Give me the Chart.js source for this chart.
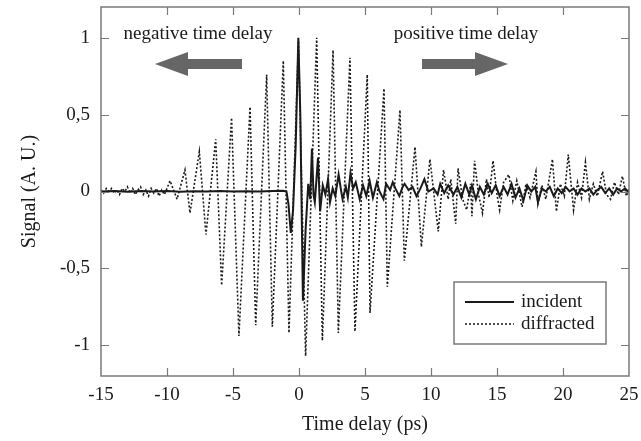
<!DOCTYPE html>
<html>
<head>
<meta charset="utf-8">
<script src="https://cdn.jsdelivr.net/npm/chart.js@4/dist/chart.umd.min.js"></script>
<style>
  html, body { margin: 0; padding: 0; background: #fff; }
  #wrap { width: 641px; height: 441px; }
</style>
</head>
<body>
<div id="wrap"><canvas id="chart" width="641" height="441"></canvas></div>
<script>
'use strict';

const FONT = "'Liberation Serif', 'Times New Roman', serif";
const INK  = '#1a1a1a';
const AXIS = '#7a7a7a';
const ARROW = '#666';

// ─── Data ────────────────────────────────────────────────────────────────────

const xTicks = [-15, -10, -5, 0, 5, 10, 15, 20, 25];
const yTicks = [-1, -0.5, 0, 0.5, 1];

const incidentX = [
  -15, -14, -13, -12, -11, -10, -9, -8, -7, -6, -5, -4, -3, -2, -1.2,
  -0.95, -0.8, -0.62, -0.45, -0.25, -0.05, 0.1, 0.3, 0.5, 0.7, 0.85, 0.98,
  1.1, 1.2, 1.44, 1.6, 1.8, 2.0, 2.2, 2.35, 2.55, 2.75, 3.0, 3.2, 3.3, 3.55,
  3.7, 3.9, 4.1, 4.3, 4.6, 4.85, 5.1, 5.35, 5.6, 5.9, 6.1, 6.4, 6.6, 6.9,
  7.1, 7.3, 7.6, 7.85, 8.0, 8.3, 8.6, 8.9, 9.2, 9.5, 9.8, 10.2, 10.5, 10.7,
  11.0, 11.3, 11.7, 12.0, 12.3, 12.6, 12.9, 13.1, 13.4, 13.7, 14.0, 14.3,
  14.6, 14.9, 15.2, 15.5, 15.8, 16.1, 16.4, 16.7, 17.0, 17.3, 17.6, 17.9,
  18.1, 18.4, 18.7, 19.0, 19.3, 19.6, 19.9, 20.2, 20.5, 20.8, 21.1, 21.4,
  21.7, 22.0, 22.3, 22.6, 22.9, 23.2, 23.5, 23.8, 24.1, 24.4, 24.7, 25.0,
];
const incidentY = [
  0.0, 0.004, -0.002, 0.003, 0.0, 0.004, -0.002, 0.002, 0.0, 0.003, 0.0, 0.002, 0.0, 0.003, 0.005,
  0.0, -0.08, -0.27, -0.12, 0.3, 1.0, 0.5, -0.71, -0.25, 0.05, -0.05, 0.28,
  -0.02, -0.07, 0.22, -0.13, 0.04, -0.02, 0.08, -0.07, 0.02, -0.03, 0.11, 0.0, -0.05, 0.03,
  -0.04, 0.12, 0.02, 0.06, -0.05, 0.04, -0.03, 0.07, -0.04, 0.06, 0.0, -0.05, 0.05, 0.01,
  0.06, 0.02, -0.03, 0.03, 0.05, 0.01, 0.03, -0.03, 0.02, 0.08, 0.0, 0.02, -0.02, 0.05,
  -0.01, 0.04, -0.02, 0.03, -0.04, 0.05, -0.02, 0.04, -0.05, 0.03, -0.02, 0.05,
  -0.01, 0.04, -0.03, 0.03, -0.02, 0.05, -0.04, 0.02, -0.06, 0.04, 0.0, 0.03,
  -0.07, 0.02, 0.0, 0.03, -0.03, 0.02, -0.01, 0.03, 0.0, 0.02, -0.02, 0.02,
  0.0, 0.02, -0.02, 0.01, 0.03, -0.01, 0.02, -0.02, 0.02, 0.0, 0.02, -0.01,
];

const diffractedX = [
  -15, -14.8, -14.6, -14.4, -14.2, -14.0, -13.8, -13.6, -13.4, -13.2, -13.0,
  -12.8, -12.6, -12.4, -12.2, -12.0, -11.8, -11.6, -11.4, -11.2, -11.0,
  -10.8, -10.6, -10.4, -10.2, -10.0,
  -9.77, -9.24, -8.64, -8.26, -7.55, -7.05, -6.31, -5.86, -5.11, -4.55,
  -3.71, -3.28, -2.45, -2.02, -1.19, -0.76, -0.04, 0.5, 1.34, 1.77, 2.58,
  2.98, 3.86, 4.24, 5.17, 5.38, 6.44, 6.69, 7.65, 7.98, 8.79, 9.27, 9.92,
  10.55, 10.95, 11.3, 11.5, 11.87, 12.05, 12.4, 12.7, 13.0, 13.1, 13.3,
  13.6, 13.9, 14.2, 14.4, 14.7, 15.0, 15.2, 15.5, 15.9, 16.2, 16.5, 16.9,
  17.2, 17.5, 17.95, 18.1, 18.4, 18.7, 19.2, 19.5, 19.8, 20.1, 20.4, 20.8,
  21.1, 21.4, 21.7, 22.0, 22.3, 22.6, 23.0, 23.3, 23.6, 23.9, 24.2, 24.5,
  24.8, 25.0,
];
const diffractedY = [
  0.01, -0.01, 0.02, 0.0, 0.02, -0.01, 0.01, -0.02, 0.02, 0.0, 0.03,
  -0.01, 0.02, -0.02, 0.01, 0.03, -0.02, 0.01, -0.03, 0.02, -0.01,
  0.02, -0.03, 0.01, -0.02, 0.02,
  0.07, -0.05, 0.14, -0.14, 0.26, -0.28, 0.34, -0.61, 0.48, -0.94,
  0.55, -0.87, 0.76, -0.88, 0.85, -0.92, 0.98, -1.07, 1.0, -0.97, 0.92,
  -0.92, 0.87, -0.91, 0.76, -0.79, 0.67, -0.62, 0.53, -0.45, 0.29, -0.36, 0.21,
  -0.26, 0.14, -0.05, 0.08, -0.21, 0.15, -0.05, -0.12, 0.05, -0.16, 0.2,
  -0.02, -0.14, 0.08, -0.04, 0.2, -0.02, -0.12, 0.06, 0.11, -0.06, 0.07, -0.1,
  0.05, -0.04, 0.13, -0.08, 0.04, -0.05, 0.21, -0.13, 0.05, -0.03, 0.24, -0.12,
  0.06, -0.04, 0.19, -0.05, 0.05, -0.03, 0.13, -0.02, -0.05, 0.06, -0.02, 0.1,
  -0.03, 0.02,
];

const seriesLabels = ['incident', 'diffracted'];

// ─── Decorations: frame, inward ticks, arrows, notes, legend ─────────────────

const frameAndNotes = {
  id: 'frameAndNotes',
  afterDatasetsDraw(chart) {
    const { ctx, chartArea: a, scales: { x, y } } = chart;
    ctx.save();

    // frame
    ctx.strokeStyle = AXIS;
    ctx.lineWidth = 1.5;
    ctx.strokeRect(a.left, a.top, a.right - a.left, a.bottom - a.top);

    // inward ticks on all four sides
    const TL = 8;
    ctx.beginPath();
    xTicks.slice(1, -1).forEach(v => {
      const px = Math.round(x.getPixelForValue(v)) + 0.5;
      ctx.moveTo(px, a.bottom); ctx.lineTo(px, a.bottom - TL);
      ctx.moveTo(px, a.top);    ctx.lineTo(px, a.top + TL);
    });
    yTicks.forEach(v => {
      const py = Math.round(y.getPixelForValue(v)) + 0.5;
      ctx.moveTo(a.left, py);  ctx.lineTo(a.left + TL, py);
      ctx.moveTo(a.right, py); ctx.lineTo(a.right - TL, py);
    });
    ctx.lineWidth = 1.2;
    ctx.stroke();

    // notes
    ctx.fillStyle = INK;
    ctx.font = `19px ${FONT}`;
    ctx.textBaseline = 'middle';
    ctx.textAlign = 'center';
    ctx.fillText('negative time delay', 198, 34);
    ctx.fillText('positive time delay', 466, 34);

    // arrows
    const arrow = (tail, tip, cy) => {
      const dir = Math.sign(tip - tail);
      const headBase = tip - dir * 33;
      ctx.beginPath();
      ctx.moveTo(tail, cy - 5);
      ctx.lineTo(headBase, cy - 5);
      ctx.lineTo(headBase, cy - 12);
      ctx.lineTo(tip, cy);
      ctx.lineTo(headBase, cy + 12);
      ctx.lineTo(headBase, cy + 5);
      ctx.lineTo(tail, cy + 5);
      ctx.closePath();
      ctx.fillStyle = ARROW;
      ctx.fill();
    };
    arrow(242, 155, 64);
    arrow(422, 508, 64);

    // legend box
    const lx = 454, ly = 282, lw = 152, lh = 62;
    ctx.fillStyle = '#fff';
    ctx.fillRect(lx, ly, lw, lh);
    ctx.strokeStyle = AXIS;
    ctx.lineWidth = 1.5;
    ctx.strokeRect(lx, ly, lw, lh);
    chart.data.datasets.forEach((ds, i) => {
      const cy = ly + 20 + i * 22;
      ctx.beginPath();
      ctx.setLineDash(ds.borderDash || []);
      ctx.strokeStyle = INK;
      ctx.lineWidth = ds.borderWidth;
      ctx.moveTo(465, cy);
      ctx.lineTo(514, cy);
      ctx.stroke();
      ctx.setLineDash([]);
      ctx.fillStyle = INK;
      ctx.textAlign = 'left';
      ctx.fillText(ds.label, 521, cy);
    });

    ctx.restore();
  },
};

// ─── Chart ───────────────────────────────────────────────────────────────────

const toPoints = (xs, ys) => xs.map((v, i) => ({ x: v, y: ys[i] }));
const commaFmt = v => String(v).replace('.', ',');

new Chart(document.getElementById('chart').getContext('2d'), {
  type: 'line',
  data: {
    datasets: [
      {
        label: seriesLabels[0],
        data: toPoints(incidentX, incidentY),
        borderColor: INK,
        borderWidth: 2,
        pointRadius: 0,
        tension: 0,
        order: 1,
      },
      {
        label: seriesLabels[1],
        data: toPoints(diffractedX, diffractedY),
        borderColor: INK,
        borderWidth: 1.6,
        borderDash: [2, 2],
        pointRadius: 0,
        tension: 0,
        order: 2,
      },
    ],
  },
  options: {
    animation: false,
    responsive: false,
    parsing: true,
    layout: { padding: { top: 7, right: 12, left: 0, bottom: 0 } },
    plugins: {
      legend: { display: false },
      tooltip: { enabled: false },
    },
    scales: {
      x: {
        type: 'linear',
        min: -15,
        max: 25,
        afterBuildTicks: s => { s.ticks = xTicks.map(v => ({ value: v })); },
        afterFit: s => { s.height = 65; s.paddingLeft = 0; s.paddingRight = 0; },
        grid: { display: false, drawTicks: false },
        border: { display: false },
        ticks: {
          color: INK,
          padding: 8,
          font: { family: FONT, size: 19 },
          maxRotation: 0,
        },
        title: {
          display: true,
          text: 'Time delay (ps)',
          color: INK,
          font: { family: FONT, size: 20 },
          padding: { top: 0, bottom: 4 },
        },
      },
      y: {
        min: -1.2,
        max: 1.2,
        afterBuildTicks: s => { s.ticks = yTicks.map(v => ({ value: v })); },
        afterFit: s => { s.width = 101; s.paddingTop = 0; s.paddingBottom = 0; },
        grid: { display: false, drawTicks: false },
        border: { display: false },
        ticks: {
          color: INK,
          padding: 11,
          font: { family: FONT, size: 19 },
          callback: v => commaFmt(v),
        },
        title: {
          display: true,
          text: 'Signal (A. U.)',
          color: INK,
          font: { family: FONT, size: 20 },
          padding: { top: 18, bottom: 0 },
        },
      },
    },
  },
  plugins: [frameAndNotes],
});
</script>
</body>
</html>
